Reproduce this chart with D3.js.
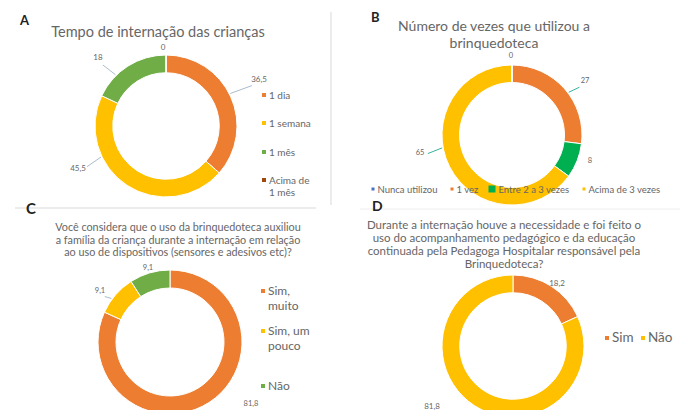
<!DOCTYPE html>
<html>
<head>
<meta charset="utf-8">
<script src="https://cdn.jsdelivr.net/npm/d3@7"></script>
<style>
  body { margin: 0; background: #fff; }
  svg { font-family: Lato, "Open Sans", sans-serif; }
</style>
</head>
<body>
<svg id="chart" width="689" height="410"></svg>
<script>
// data (percent)
var catsA = ["1 dia", "1 semana", "1 mês", "Acima de 1 mês"];
var valsA = [36.5, 45.5, 18, 0];
var catsB = ["1 vez", "Entre 2 a 3 vezes", "Acima de 3 vezes", "Nunca utilizou"];
var valsB = [27, 8, 65, 0];
var catsC = ["Sim, muito", "Sim, um pouco", "Não"];
var valsC = [81.8, 9.1, 9.1];
var catsD = ["Sim", "Não"];
var valsD = [18.2, 81.8];

var svg = d3.select("#chart");
var grey = "#666";

// faint panel borders
svg.append("line").attr("x1", 331).attr("x2", 331).attr("y1", 12).attr("y2", 205)
  .attr("stroke", "#d9d9d9");
svg.append("line").attr("x1", 15).attr("x2", 316).attr("y1", 208).attr("y2", 208)
  .attr("stroke", "#d9d9d9");
svg.append("line").attr("x1", 360).attr("x2", 680).attr("y1", 209).attr("y2", 209)
  .attr("stroke", "#eeeeee");

var pie = d3.pie().sort(null).value(function(d) { return d.v });

function donut(cfg) {
  var g = svg.append("g").attr("transform", "translate(" + cfg.cx + "," + cfg.cy + ")");
  var data = cfg.cats.map(function(c, i) { return { c: c, v: cfg.vals[i] } });
  var color = d3.scaleOrdinal().domain(cfg.cats).range(cfg.colors);
  var arc = d3.arc().innerRadius(cfg.r * 0.75).outerRadius(cfg.r);
  var arcs = pie(data);
  g.selectAll("path").data(arcs).enter().append("path")
    .attr("d", arc)
    .attr("fill", function(d) { return color(d.data.c) })
    .attr("stroke", "#fff").attr("stroke-width", 1);

  // data labels
  cfg.labels.forEach(function(l, i) {
    var v = cfg.vals[l.i];
    var txt = String(v).replace(".", ",");
    if (l.lead) {
      var len = Math.sqrt(l.dx * l.dx + l.dy * l.dy);
      var ux = l.dx / len, uy = l.dy / len;
      g.append("line")
        .attr("x1", ux * (cfg.r + 1)).attr("y1", uy * (cfg.r + 1))
        .attr("x2", l.dx - ux * l.lead).attr("y2", l.dy - uy * l.lead + 3)
        .attr("stroke", cfg.leadColor).attr("stroke-width", 1);
    }
    g.append("text").attr("x", l.dx).attr("y", l.dy + 3)
      .attr("text-anchor", "middle")
      .attr("font-size", cfg.labelSize).attr("fill", grey)
      .text(txt);
  });

  // legend
  cfg.legend.forEach(function(it) {
    svg.append("rect")
      .attr("x", it.x - it.m / 2).attr("y", it.y - 3 - it.m / 2)
      .attr("width", it.m).attr("height", it.m)
      .attr("fill", color(it.c));
    it.lines.forEach(function(t, k) {
      svg.append("text").attr("x", it.x + it.m / 2 + 3).attr("y", it.y + 0.5 + k * cfg.legendLine)
        .attr("font-size", cfg.legendSize).attr("fill", grey)
        .text(t);
    });
  });

  // title
  cfg.title.forEach(function(t, k) {
    svg.append("text").attr("x", cfg.tx).attr("y", cfg.ty + k * cfg.titleLine)
      .attr("text-anchor", "middle").attr("font-size", cfg.titleSize)
      .attr("fill", grey).text(t);
  });
  svg.append("text").attr("x", cfg.px).attr("y", cfg.py)
    .attr("font-size", cfg.letterSize).attr("font-weight", "bold")
    .attr("fill", "#222").text(cfg.letter);
}

donut({
  cats: catsA, vals: valsA,
  colors: ["#ED7D31", "#FFC000", "#70AD47", "#9E480E"],
  cx: 166, cy: 126, r: 71,
  labelSize: 8, leadColor: "#a9bccb",
  labels: [
    { i: 3, dx: -3, dy: -79 },
    { i: 2, dx: -68, dy: -69, lead: 7 },
    { i: 0, dx: 93, dy: -47, lead: 8 },
    { i: 1, dx: -88, dy: 42, lead: 10 }
  ],
  legendSize: 10, legendLine: 12,
  legend: [
    { c: "1 dia", x: 264, y: 98, m: 4, lines: ["1 dia"] },
    { c: "1 semana", x: 264, y: 126, m: 4, lines: ["1 semana"] },
    { c: "1 mês", x: 264, y: 155, m: 4, lines: ["1 mês"] },
    { c: "Acima de 1 mês", x: 264, y: 183, m: 4, lines: ["Acima de", "1 mês"] }
  ],
  title: ["Tempo de internação das crianças"], tx: 158, ty: 37, titleSize: 14.5, titleLine: 0,
  letter: "A", px: 20, py: 25, letterSize: 13
});

donut({
  cats: catsB, vals: valsB,
  colors: ["#ED7D31", "#00B050", "#FFC000", "#4472C4"],
  cx: 512, cy: 135, r: 70,
  labelSize: 7.5, leadColor: "#37b39a",
  labels: [
    { i: 3, dx: -1, dy: -80 },
    { i: 0, dx: 73, dy: -55, lead: 7 },
    { i: 1, dx: 78, dy: 25 },
    { i: 2, dx: -92, dy: 17, lead: 8 }
  ],
  legendSize: 9.5, legendLine: 0,
  legend: [
    { c: "Nunca utilizou", x: 373, y: 192, m: 3, lines: ["Nunca utilizou"] },
    { c: "1 vez", x: 452, y: 192, m: 3, lines: ["1 vez"] },
    { c: "Entre 2 a 3 vezes", x: 492, y: 192, m: 7, lines: ["Entre 2 a 3 vezes"] },
    { c: "Acima de 3 vezes", x: 584, y: 192, m: 3, lines: ["Acima de 3 vezes"] }
  ],
  title: ["Número de vezes que utilizou a", "brinquedoteca"], tx: 494, ty: 31, titleSize: 14, titleLine: 17,
  letter: "B", px: 371, py: 22, letterSize: 13
});

donut({
  cats: catsC, vals: valsC,
  colors: ["#ED7D31", "#FFC000", "#70AD47"],
  cx: 170, cy: 342, r: 72,
  labelSize: 7.5, leadColor: "#a9bccb",
  labels: [
    { i: 2, dx: -22, dy: -75 },
    { i: 1, dx: -70, dy: -52, lead: 6 },
    { i: 0, dx: 81, dy: 61 }
  ],
  legendSize: 12, legendLine: 15,
  legend: [
    { c: "Sim, muito", x: 263, y: 294, m: 4, lines: ["Sim,", "muito"] },
    { c: "Sim, um pouco", x: 263, y: 334, m: 4, lines: ["Sim, um", "pouco"] },
    { c: "Não", x: 263, y: 389, m: 4, lines: ["Não"] }
  ],
  title: ["Você considera que o uso da brinquedoteca auxiliou",
          "a família da criança durante a internação em relação",
          "ao uso de dispositivos (sensores e adesivos etc)?"],
  tx: 178, ty: 231, titleSize: 10.8, titleLine: 12.5,
  letter: "C", px: 26, py: 214, letterSize: 15
});

donut({
  cats: catsD, vals: valsD,
  colors: ["#ED7D31", "#FFC000"],
  cx: 513, cy: 346, r: 71,
  labelSize: 8, leadColor: "#a9bccb",
  labels: [
    { i: 0, dx: 44, dy: -63 },
    { i: 1, dx: -81, dy: 60 }
  ],
  legendSize: 13.5, legendLine: 0,
  legend: [
    { c: "Sim", x: 607, y: 341, m: 4, lines: ["Sim"] },
    { c: "Não", x: 643, y: 341, m: 4, lines: ["Não"] }
  ],
  title: ["Durante a internação houve a necessidade e foi feito o",
          "uso do acompanhamento  pedagógico e da educação",
          "continuada pela Pedagoga Hospitalar responsável pela",
          "Brinquedoteca?"],
  tx: 504, ty: 229, titleSize: 11.5, titleLine: 13,
  letter: "D", px: 372, py: 211, letterSize: 14
});
</script>
</body>
</html>
